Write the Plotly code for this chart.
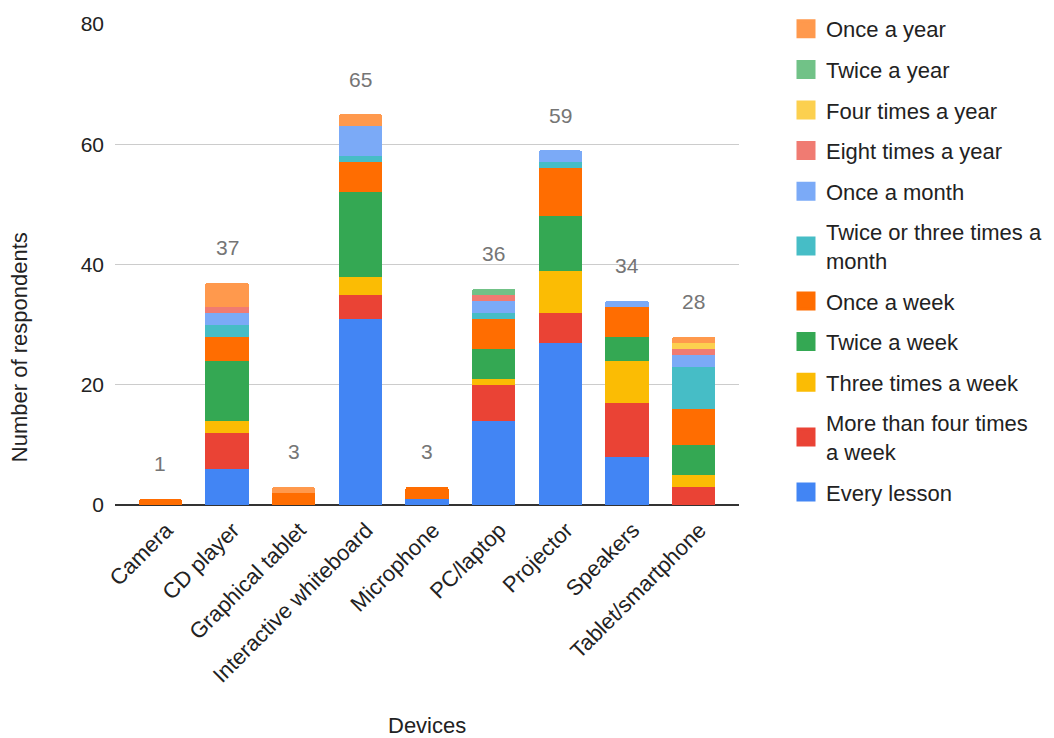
import plotly.graph_objects as go

devices = ["Camera", "CD player", "Graphical tablet", "Interactive whiteboard",
           "Microphone", "PC/laptop", "Projector", "Speakers", "Tablet/smartphone"]

every_lesson       = [0, 6, 0, 31, 1, 14, 27, 8, 0]
more_than_four     = [0, 6, 0, 4, 0, 6, 5, 9, 3]
three_times_week   = [0, 2, 0, 3, 0, 1, 7, 7, 2]
twice_week         = [0, 10, 0, 14, 0, 5, 9, 4, 5]
once_week          = [1, 4, 2, 5, 2, 5, 8, 5, 6]
twice_three_month  = [0, 2, 0, 1, 0, 1, 1, 0, 7]
once_month         = [0, 2, 0, 5, 0, 2, 2, 1, 2]
eight_times_year   = [0, 1, 0, 0, 0, 1, 0, 0, 1]
four_times_year    = [0, 0, 0, 0, 0, 0, 0, 0, 1]
twice_year         = [0, 0, 0, 0, 0, 1, 0, 0, 0]
once_year          = [0, 4, 1, 2, 0, 0, 0, 0, 1]

series = [
    ("Every lesson", every_lesson, "#4285F4"),
    ("More than four times<br>a week", more_than_four, "#EA4335"),
    ("Three times a week", three_times_week, "#FBBC04"),
    ("Twice a week", twice_week, "#34A853"),
    ("Once a week", once_week, "#FF6D01"),
    ("Twice or three times a<br>month", twice_three_month, "#46BDC6"),
    ("Once a month", once_month, "#7BAAF7"),
    ("Eight times a year", eight_times_year, "#F07B72"),
    ("Four times a year", four_times_year, "#FCD04F"),
    ("Twice a year", twice_year, "#71C287"),
    ("Once a year", once_year, "#FF994D"),
]

totals = [sum(s[1][i] for s in series) for i in range(len(devices))]

FONT = "Liberation Sans, Arial, sans-serif"
TXT = "#222222"

fig = go.Figure()
for i, (name, vals, color) in enumerate(series):
    fig.add_trace(go.Bar(
        x=devices, y=[v if v else None for v in vals], name=name,
        marker=dict(color=color, line=dict(width=0)),
        legendgroup=f"g{i}", showlegend=False,
    ))
# legend entries (larger square swatches)
for i, (name, vals, color) in enumerate(series):
    fig.add_trace(go.Scatter(
        x=[None], y=[None], mode="markers", name=name,
        marker=dict(symbol="square", size=16, color=color,
                    line=dict(color=color, width=3)),
        legendgroup=f"g{i}", legendrank=100 - i, hoverinfo="skip",
    ))

for d, t in zip(devices, totals):
    fig.add_annotation(x=d, y=t, text=str(t), showarrow=False, yshift=35,
                       yanchor="middle", font=dict(size=21, color="#757575", family=FONT))

fig.add_annotation(xref="paper", yref="paper", x=-0.152, y=0.3285,
                   text="Number of respondents", textangle=-90, showarrow=False,
                   xanchor="center", yanchor="middle",
                   font=dict(size=22, color=TXT, family=FONT))
fig.add_annotation(xref="paper", yref="paper", x=0.5, y=-0.4574,
                   text="Devices", showarrow=False,
                   xanchor="center", yanchor="middle",
                   font=dict(size=22, color=TXT, family=FONT))

fig.update_layout(
    barmode="stack",
    bargap=0.35,
    barcornerradius=3,
    width=1046, height=730,
    margin=dict(l=107, r=315, t=16, b=233, autoexpand=False),
    paper_bgcolor="white", plot_bgcolor="white",
    font=dict(family=FONT, size=22, color=TXT),
    legend=dict(
        traceorder="grouped",
        tracegroupgap=9,
        xref="container", yref="container",
        x=778 / 1046, y=1.0, xanchor="left", yanchor="top",
        font=dict(size=22, color=TXT, family=FONT),
        itemwidth=30, itemsizing="trace",
        maxheight=1,
    ),
    xaxis=dict(
        range=[-0.68, 8.68], tickangle=-45, showgrid=False, automargin=False,
        showline=False, ticks="", tickfont=dict(size=22, color=TXT),
        ticklabelshift=6, ticklabelstandoff=7,
    ),
    yaxis=dict(
        range=[0, 80], tickvals=[0, 20, 40, 60, 80], showgrid=True, automargin=False,
        gridcolor="#cccccc", gridwidth=1, zeroline=True, zerolinecolor="#333333",
        zerolinewidth=2, showline=False, ticks="",
        tickfont=dict(size=21, color=TXT), ticklabelstandoff=10,
    ),
)

fig.write_html("out.html")
